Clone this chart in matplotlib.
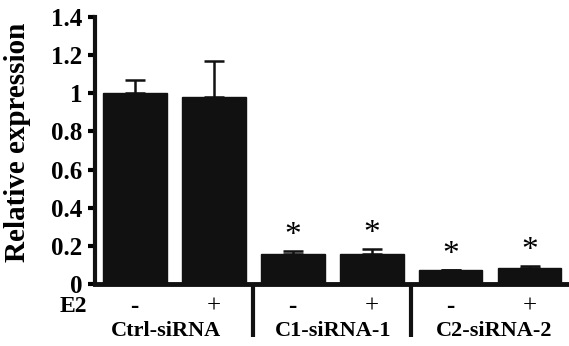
import numpy as np
import matplotlib.pyplot as plt

plt.rcParams['font.family'] = 'Liberation Serif'
plt.rcParams['font.weight'] = 'bold'

groups = ['Ctrl-siRNA', 'C1-siRNA-1', 'C2-siRNA-2']
e2 = ['-', '+', '-', '+', '-', '+']
means = [1.0, 0.98, 0.155, 0.16, 0.075, 0.085]
errs = [0.07, 0.19, 0.02, 0.025, 0.0, 0.008]
signif = [False, False, True, True, True, True]

x = np.arange(len(means))

fig = plt.figure(figsize=(5.69, 3.46), dpi=100)
ax = fig.add_axes([0.167, 0.179, 0.833, 0.772])

ax.bar(x, means, width=0.81, color='#111111', edgecolor='#111111', zorder=2)
ax.errorbar(x, means, yerr=[np.zeros(len(errs)), errs], fmt='none',
            ecolor='#111111', elinewidth=1.8, capsize=7, capthick=1.8, zorder=1)

# asterisks above the knockdown bars
for xi, m, e, s in zip(x, means, errs, signif):
    if s:
        ax.text(xi, m + e + 0.08, '*', ha='center', va='center', fontsize=24,
                fontweight='normal')

ax.set_xlim(-0.5, 5.5)
ax.set_ylim(0, 1.4)
ax.set_yticks(np.arange(0, 1.41, 0.2))
ax.set_yticklabels(['0', '0.2', '0.4', '0.6', '0.8', '1', '1.2', '1.4'])
ax.set_xticks([])
ax.tick_params(axis='y', labelsize=18, width=3, length=5, direction='out', pad=4)
for lab in ax.get_yticklabels():
    lab.set_fontweight('bold')

for side in ['top', 'right']:
    ax.spines[side].set_visible(False)
ax.spines['left'].set_linewidth(3)
ax.spines['bottom'].set_linewidth(3.5)
ax.spines['left'].set_color('#111111')
ax.spines['bottom'].set_color('#111111')

ax.set_ylabel('Relative expression', fontsize=21, fontweight='bold', labelpad=5)
ax.yaxis.set_label_coords(-0.135, 0.53)

# E2 row and group labels under the axis
trans = ax.get_xaxis_transform()
ax.text(-0.6, -0.085, 'E2', transform=trans, ha='right', va='center', fontsize=17)
for xi, s in zip(x, e2):
    ax.text(xi, -0.085, s, transform=trans, ha='center', va='center', fontsize=18,
            fontweight='normal' if s == '+' else 'bold')
for gx, g in zip([0.4, 2.52, 4.55], groups):
    ax.text(gx, -0.175, g, transform=trans, ha='center', va='center', fontsize=16)

for sx in [1.5, 3.5]:
    ax.plot([sx, sx], [0, -0.2], transform=trans, color='#111111', lw=3,
            clip_on=False, solid_capstyle='butt')

fig.savefig('out.png', dpi=100)
